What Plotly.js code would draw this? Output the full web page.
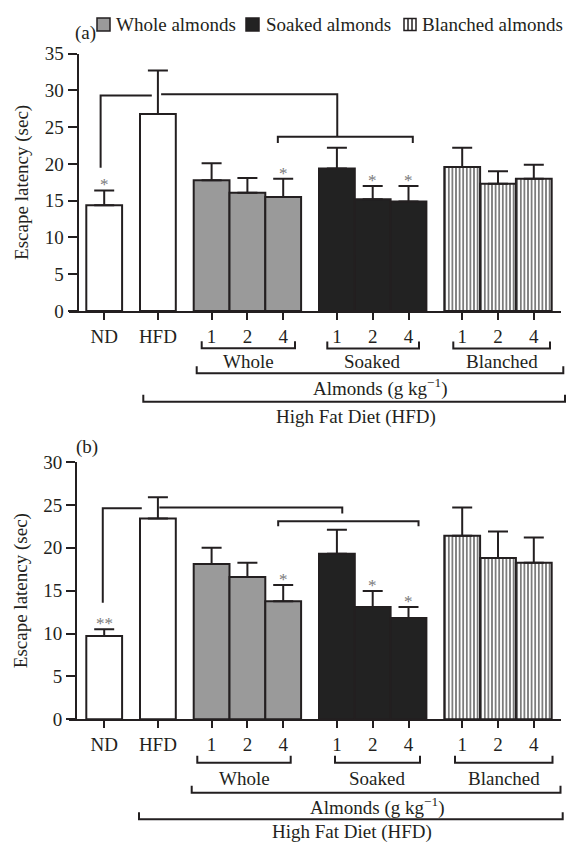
<!DOCTYPE html>
<html>
<head>
<meta charset="utf-8">
<script src="https://cdn.plot.ly/plotly-3.0.1.min.js"></script>
<style>html,body{margin:0;padding:0;background:#fff;}#chart{width:566px;height:843px;}</style>
</head>
<body>
<div id="chart"></div>
<script>
// ---------- data ----------
const controlLabels = ['ND', 'HFD'];
const doseLabels = ['1', '2', '4'];
const almondTypes = ['Whole almonds', 'Soaked almonds', 'Blanched almonds'];
const typeShort = ['Whole', 'Soaked', 'Blanched'];

// Panel (a)
const a_control = [14.4, 26.8];
const a_controlErr = [2.0, 5.9];
const a_whole = [17.8, 16.1, 15.5];
const a_wholeErr = [2.3, 2.0, 2.5];
const a_soaked = [19.4, 15.2, 14.9];
const a_soakedErr = [2.8, 1.8, 2.1];
const a_blanched = [19.6, 17.3, 18.0];
const a_blanchedErr = [2.6, 1.7, 1.9];
const a_controlStars = ['*', ''];
const a_wholeStars = ['', '', '*'];
const a_soakedStars = ['', '*', '*'];
const a_blanchedStars = ['', '', ''];

// Panel (b)
const b_control = [9.7, 23.4];
const b_controlErr = [0.8, 2.5];
const b_whole = [18.1, 16.6, 13.75];
const b_wholeErr = [1.9, 1.65, 1.9];
const b_soaked = [19.3, 13.1, 11.8];
const b_soakedErr = [2.8, 1.85, 1.3];
const b_blanched = [21.4, 18.8, 18.25];
const b_blanchedErr = [3.3, 3.1, 2.95];
const b_controlStars = ['**', ''];
const b_wholeStars = ['', '', '*'];
const b_soakedStars = ['', '*', '*'];
const b_blanchedStars = ['', '', ''];

// ---------- layout helpers ----------
const W = 566, H = 843;
const FONT = 'Liberation Serif, Times New Roman, serif';
const FS = 19;
const INK = '#231f20';
const X = p => p / W;
const Y = p => 1 - p / H;

// slot positions: ND, HFD, then 3 groups of 3 with half-bar gaps
const controlPos = [0, 1.5];
const groupPos = g => doseLabels.map((_, i) => 3 + g * 3.5 + i);

const fills = ['#9a9a9a', '#222222', '#ffffff'];

function panelTraces(xa, ya, ctrl, ctrlErr, groups, groupErrs) {
  const tr = [];
  tr.push({
    type: 'bar', x: controlPos, y: ctrl, width: 1, xaxis: xa, yaxis: ya, name: 'Control',
    marker: {color: '#ffffff', line: {color: INK, width: 2}},
    error_y: {type: 'data', symmetric: false, array: ctrlErr, arrayminus: ctrlErr.map(() => 0),
              color: INK, thickness: 2, width: 10},
    showlegend: false, hoverinfo: 'skip'
  });
  groups.forEach((vals, g) => {
    const m = {color: fills[g], line: {color: INK, width: 2}};
    if (g === 2) m.pattern = {shape: '|', fgcolor: '#6e6e6e', bgcolor: '#ffffff', size: 3.6, solidity: 0.45};
    tr.push({
      type: 'bar', x: groupPos(g), y: vals, width: 1, xaxis: xa, yaxis: ya, name: almondTypes[g],
      marker: m,
      error_y: {type: 'data', symmetric: false, array: groupErrs[g], arrayminus: groupErrs[g].map(() => 0),
                color: INK, thickness: 2, width: 10},
      showlegend: false, hoverinfo: 'skip'
    });
  });
  return tr;
}

const traces = [
  ...panelTraces('x', 'y', a_control, a_controlErr, [a_whole, a_soaked, a_blanched], [a_wholeErr, a_soakedErr, a_blanchedErr]),
  ...panelTraces('x2', 'y2', b_control, b_controlErr, [b_whole, b_soaked, b_blanched], [b_wholeErr, b_soakedErr, b_blanchedErr])
];

const allPos = [...controlPos, ...groupPos(0), ...groupPos(1), ...groupPos(2)];
const allLabels = [...controlLabels, ...doseLabels, ...doseLabels, ...doseLabels];
const xRange = [(69 - 104.2) / 35.8, (561 - 104.2) / 35.8];

function xAxis(anchor) {
  return {
    domain: [X(69), X(561)], range: xRange, anchor: anchor,
    showline: true, linewidth: 2, linecolor: INK, showgrid: false, zeroline: false,
    ticks: 'outside', ticklen: 7, tickwidth: 2, tickcolor: INK,
    tickvals: allPos, ticktext: allLabels,
    tickfont: {family: FONT, size: FS, color: INK}, fixedrange: true
  };
}
function yAxis(domain, range, pos) {
  return {
    domain: domain, range: range, anchor: 'free', position: pos,
    showline: true, linewidth: 2, linecolor: INK, showgrid: false, zeroline: false,
    ticks: 'outside', ticklen: 9, tickwidth: 2, tickcolor: INK, dtick: 5, tick0: 0,
    tickfont: {family: FONT, size: FS, color: INK},
    title: {text: 'Escape latency (sec)', font: {family: FONT, size: FS, color: INK}, standoff: 10},
    fixedrange: true
  };
}

// ---------- annotations & shapes ----------
const annotations = [];
const shapes = [];
const line = {color: INK, width: 2};

function starAnn(xa, ya, pos, vals, errs, stars) {
  stars.forEach((s, i) => {
    if (!s) return;
    annotations.push({xref: xa, yref: ya, x: pos[i], y: vals[i] + errs[i], text: s,
      yanchor: 'bottom', showarrow: false, yshift: -6,
      font: {family: FONT, size: 17, color: '#7a7a7a'}});
  });
}
starAnn('x', 'y', controlPos, a_control, a_controlErr, a_controlStars);
starAnn('x', 'y', groupPos(0), a_whole, a_wholeErr, a_wholeStars);
starAnn('x', 'y', groupPos(1), a_soaked, a_soakedErr, a_soakedStars);
starAnn('x', 'y', groupPos(2), a_blanched, a_blanchedErr, a_blanchedStars);
starAnn('x2', 'y2', controlPos, b_control, b_controlErr, b_controlStars);
starAnn('x2', 'y2', groupPos(0), b_whole, b_wholeErr, b_wholeStars);
starAnn('x2', 'y2', groupPos(1), b_soaked, b_soakedErr, b_soakedStars);
starAnn('x2', 'y2', groupPos(2), b_blanched, b_blanchedErr, b_blanchedStars);

// significance brackets in data units
function dpath(xa, ya, pts) {
  shapes.push({type: 'path', xref: xa, yref: ya, line: line,
    path: pts.map((p, i) => (i ? 'L' : 'M') + p[0] + ',' + p[1]).join(' ')});
}
dpath('x', 'y', [[-0.1, 19.5], [-0.1, 29.3], [1.33, 29.3]]);
dpath('x', 'y', [[1.59, 29.5], [6.51, 29.5], [6.51, 23.7]]);
dpath('x', 'y', [[4.85, 22.85], [4.85, 23.7], [8.62, 23.7], [8.62, 22.85]]);
dpath('x2', 'y2', [[-0.04, 13.6], [-0.04, 24.6], [1.05, 24.6]]);
dpath('x2', 'y2', [[1.54, 24.7], [6.65, 24.7], [6.65, 24.0]]);
dpath('x2', 'y2', [[4.86, 22.5], [4.86, 23.1], [8.78, 23.1], [8.78, 22.5]]);

// group brackets below axes (pixel positions)
function bracket(x0, x1, y, up) {
  shapes.push({type: 'path', xref: 'paper', yref: 'paper', line: line,
    path: `M${X(x0)},${Y(y - up)} L${X(x0)},${Y(y)} L${X(x1)},${Y(y)} L${X(x1)},${Y(y - up)}`});
}
function label(text, x, y, anchor) {
  annotations.push({xref: 'paper', yref: 'paper', x: X(x), y: Y(y), text: text,
    xanchor: anchor || 'center', yanchor: 'middle', showarrow: false,
    font: {family: FONT, size: FS, color: INK}});
}
// panel a
bracket(201.7, 295, 348.3, 7); label(typeShort[0], 248.3, 361.7);
bracket(327.3, 419, 348.5, 7); label(typeShort[1], 372, 361.7);
bracket(453.3, 550, 348.5, 7); label(typeShort[2], 502, 361.7);
bracket(196.7, 563.3, 373.3, 7); label('Almonds (g kg<sup>−1</sup>)', 380, 387.3);
bracket(143.3, 565, 401.7, 7); label('High Fat Diet (HFD)', 355.5, 416.7);
// panel b
bracket(197.3, 290.7, 762.7, 7); label(typeShort[0], 244.7, 778.3);
bracket(335, 420, 762.7, 7); label(typeShort[1], 377, 778.3);
bracket(455, 552.5, 762.7, 7); label(typeShort[2], 503.6, 778.3);
bracket(191.7, 560.5, 792.7, 7); label('Almonds (g kg<sup>−1</sup>)', 377, 806);
bracket(139, 562.7, 819.3, 7); label('High Fat Diet (HFD)', 351.5, 832);

// panel letters
label('(a)', 73, 33, 'left');
label('(b)', 74, 447, 'left');

// manual legend
function box(x0, x1, y0, y1, fill) {
  shapes.push({type: 'rect', xref: 'paper', yref: 'paper', x0: X(x0), x1: X(x1), y0: Y(y1), y1: Y(y0),
    fillcolor: fill, line: {color: INK, width: 1.5}});
}
box(97, 110, 18, 31, fills[0]); label(almondTypes[0], 113.5, 24.5, 'left');
box(246, 259, 18, 31, fills[1]); label(almondTypes[1], 263.5, 24.5, 'left');
box(404, 416, 18.5, 30.5, fills[2]);
[408, 412].forEach(xx => shapes.push({type: 'line', xref: 'paper', yref: 'paper',
  x0: X(xx), x1: X(xx), y0: Y(18.5), y1: Y(30.5), line: {color: INK, width: 1.5}}));
label(almondTypes[2], 420, 24.5, 'left');

const layout = {
  width: W, height: H, margin: {l: 0, r: 0, t: 0, b: 0},
  paper_bgcolor: '#ffffff', plot_bgcolor: 'rgba(0,0,0,0)',
  font: {family: FONT, size: FS, color: INK},
  barmode: 'overlay', showlegend: false,
  xaxis: xAxis('y'),
  yaxis: yAxis([Y(311), Y(53.7)], [0, 35], X(77.5)),
  xaxis2: xAxis('y2'),
  yaxis2: yAxis([Y(719.3), Y(462)], [0, 30], X(76)),
  shapes: shapes, annotations: annotations
};

Plotly.newPlot('chart', traces, layout, {staticPlot: true, displayModeBar: false});
</script>
</body>
</html>
